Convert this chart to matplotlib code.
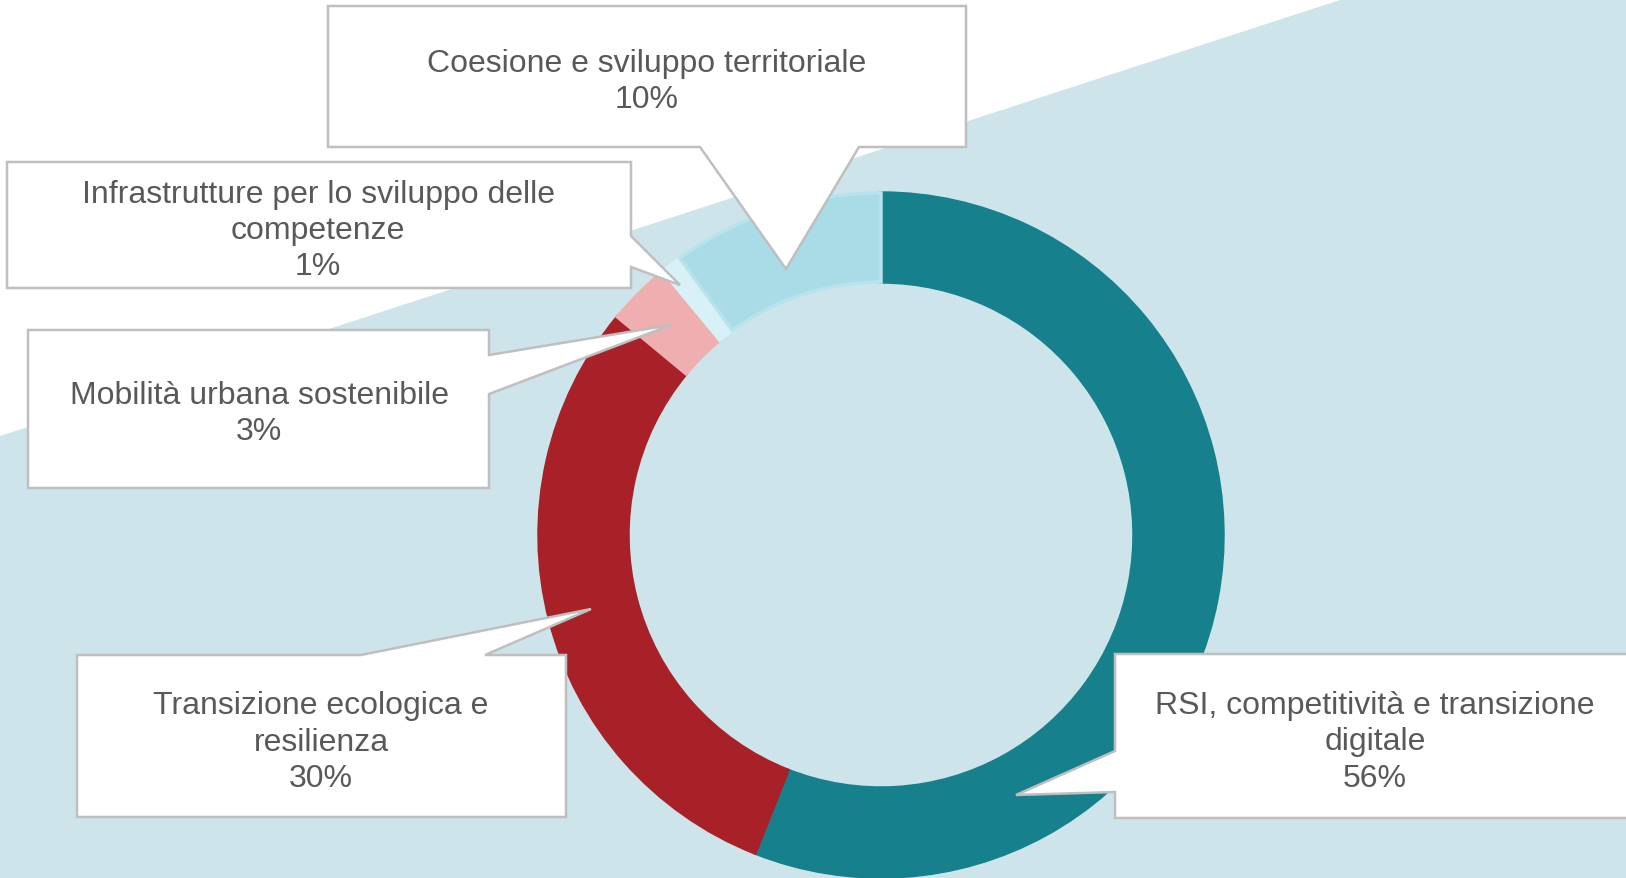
import matplotlib.pyplot as plt
from matplotlib.patches import Polygon

W, H = 1626, 879

# dati
categorie = ['RSI, competitività e transizione\ndigitale',
             'Transizione ecologica e\nresilienza',
             'Mobilità urbana sostenibile',
             'Infrastrutture per lo sviluppo delle\ncompetenze',
             'Coesione e sviluppo territoriale']
quote = [56, 30, 3, 1, 10]
colori = ['#17808d', '#a82128', '#efaeb0', '#d7f1f6', '#a9dce6']
bordi = ['#17808d', '#a82128', '#efaeb0', '#d7f1f6', '#b6e3ec']

plt.rcParams['font.family'] = ['Liberation Sans', 'DejaVu Sans']


def px(x, y):
    # coordinate pixel (origine in alto) -> coordinate dati
    return (x, H - y)


fig = plt.figure(figsize=(W / 100, H / 100), dpi=100)
fig.patch.set_facecolor('white')
ax = fig.add_axes([0, 0, 1, 1])

# sfondo diagonale
sfondo = Polygon([px(0, 437), px(1343, 0), px(W, 0), px(W, H), px(0, H)],
                 closed=True, facecolor='#cde5ea', edgecolor='none', zorder=0)
ax.add_patch(sfondo)

# ciambella
wedges, _ = ax.pie(quote, colors=colori, startangle=90, counterclock=False,
                   radius=342, center=px(881, 536),
                   wedgeprops=dict(width=89, linewidth=2.5))
for w, b in zip(wedges, bordi):
    w.set_edgecolor(b)
    w.set_zorder(2)


def callout(box, side, base, tip, righe_y, testo, cx):
    x0, y0, x1, y1 = box
    a, b = base
    if side == 'top':
        pts = [(x0, y0), (a, y0), tip, (b, y0), (x1, y0), (x1, y1), (x0, y1)]
    elif side == 'bottom':
        pts = [(x0, y0), (x1, y0), (x1, y1), (b, y1), tip, (a, y1), (x0, y1)]
    elif side == 'right':
        pts = [(x0, y0), (x1, y0), (x1, a), tip, (x1, b), (x1, y1), (x0, y1)]
    else:  # left
        pts = [(x0, y0), (x1, y0), (x1, y1), (x0, y1), (x0, b), tip, (x0, a)]
    poly = Polygon([px(*p) for p in pts], closed=True, facecolor='white',
                   edgecolor='#bfbfbf', linewidth=1.8, zorder=5)
    ax.add_patch(poly)
    for riga, yy in zip(testo.split('\n'), righe_y):
        ax.text(*px(cx, yy + 3), riga, ha='center', va='center', fontsize=23,
                color='#595959', zorder=6)


# etichette
callout((1115, 655, 1640, 819), 'left', (752, 793), (1016, 796),
        [703, 739, 776], categorie[0] + '\n' + f'{quote[0]}%', 1375)
callout((77, 656, 566, 818), 'top', (361, 485), (591, 610),
        [703, 740, 776], categorie[1] + '\n' + f'{quote[1]}%', 321)
callout((28, 331, 489, 489), 'right', (356, 395), (671, 326),
        [393, 429], categorie[2] + '\n' + f'{quote[2]}%', 259)
callout((7, 163, 631, 289), 'right', (237, 268), (680, 286),
        [192, 228, 264], categorie[3] + '\n' + f'{quote[3]}%', 318)
callout((328, 7, 966, 148), 'bottom', (700, 859), (786, 270),
        [61, 97], categorie[4] + '\n' + f'{quote[4]}%', 647)

ax.set_xlim(0, W)
ax.set_ylim(0, H)
ax.set_aspect('auto')
ax.axis('off')

plt.savefig('out.png', dpi=100)
